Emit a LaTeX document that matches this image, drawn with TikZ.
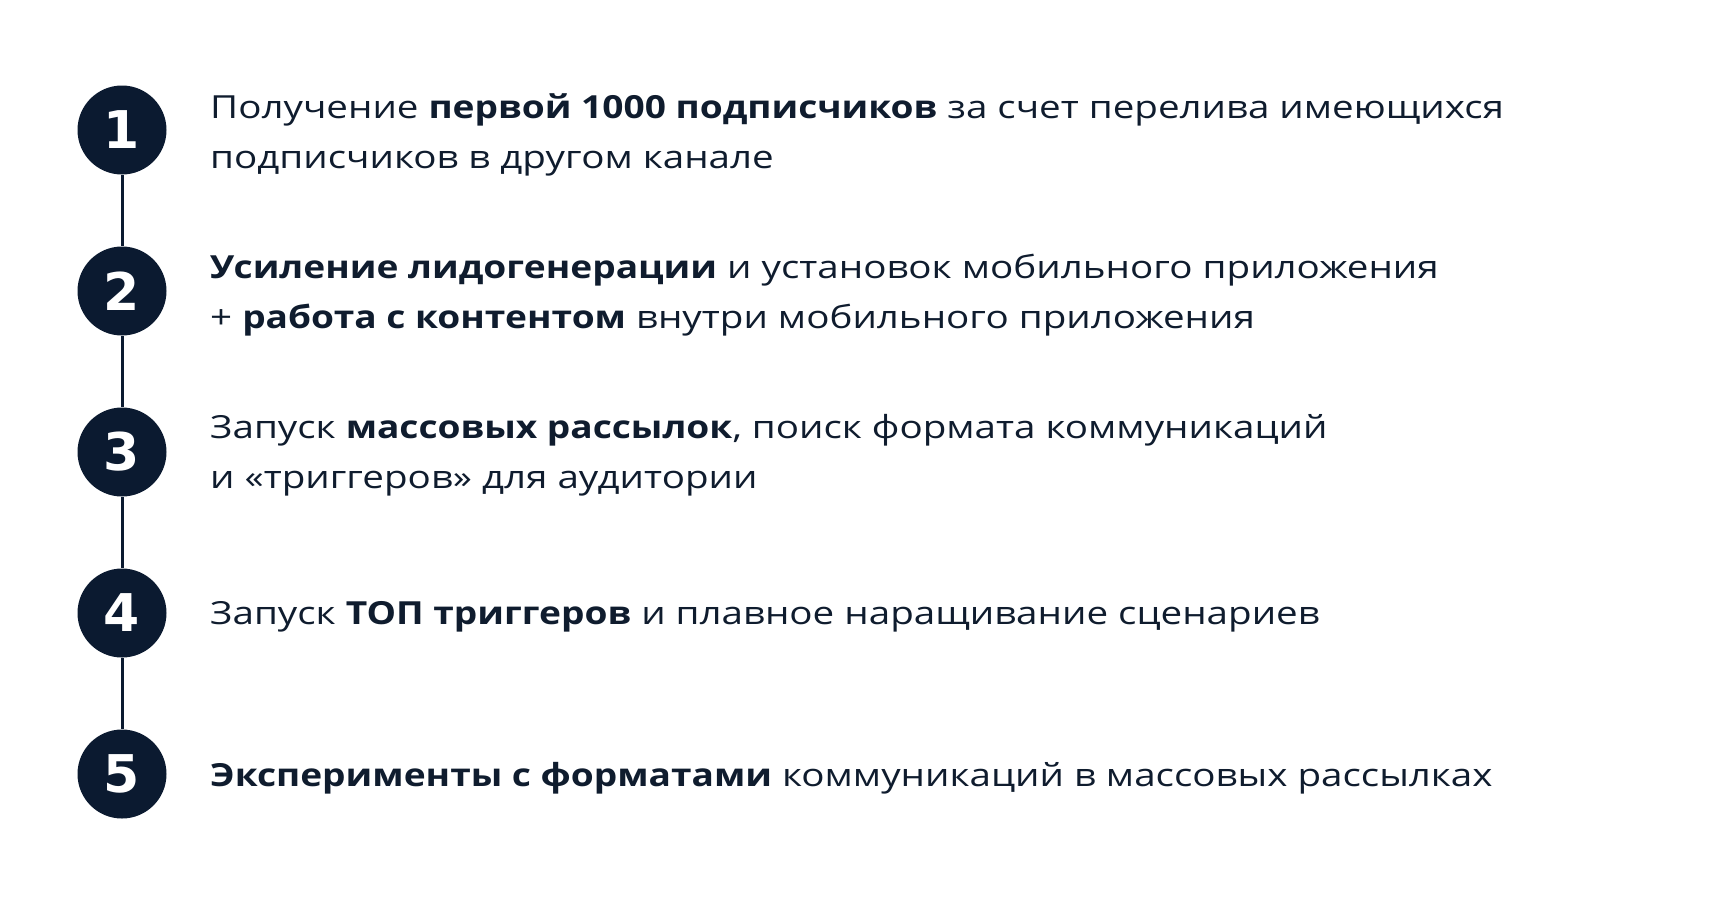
\documentclass[tikz,border=0pt]{standalone}
\usepackage{fontspec}
\setmainfont{Open Sans}[UprightFeatures={FakeStretch=1.212},BoldFeatures={FakeStretch=1.167}]
\newfontfamily\digitfont{DejaVu Sans}
\definecolor{navy}{HTML}{0B1A30}
\definecolor{ink}{HTML}{0F1C2E}
\begin{document}
\begin{tikzpicture}[x=1pt,y=-1pt,
  numcirc/.style={circle,fill=navy,minimum size=89pt,inner sep=0pt,text=white,font=\digitfont\bfseries\fontsize{52}{52}\selectfont},
  stepline/.style={draw=navy,line width=3pt},
  desc/.style={anchor=west,align=left,text=ink,inner sep=0pt,font=\fontsize{31.8}{50}\selectfont}]
\fill[white] (0,0) rectangle (1721,898);
\useasboundingbox (0,0) rectangle (1721,898);
\node[numcirc] (c1) at (122,130) {1};
\node[numcirc] (c2) at (122,291) {2};
\node[numcirc] (c3) at (122,452) {3};
\node[numcirc] (c4) at (122,613) {4};
\node[numcirc] (c5) at (122,774) {5};
\draw[stepline] (c1.south) -- (c2.north);
\draw[stepline] (c2.south) -- (c3.north);
\draw[stepline] (c3.south) -- (c4.north);
\draw[stepline] (c4.south) -- (c5.north);
\node[desc] (t1) at (210,134.5) {Получение \textbf{первой 1000 подписчиков} за счет перелива имеющихся\\подписчиков в другом канале};
\node[desc] (t2) at (210,295.5) {\textbf{Усиление лидогенерации} и установок мобильного приложения\\+ \textbf{работа с контентом} внутри мобильного приложения};
\node[desc] (t3) at (210,455.5) {Запуск \textbf{массовых рассылок}, поиск формата коммуникаций\\и «триггеров» для аудитории};
\node[desc] (t4) at (210,617) {Запуск \textbf{ТОП триггеров} и плавное наращивание сценариев};
\node[desc] (t5) at (210,778) {\textbf{Эксперименты с форматами} коммуникаций в массовых рассылках};
\end{tikzpicture}
\end{document}
